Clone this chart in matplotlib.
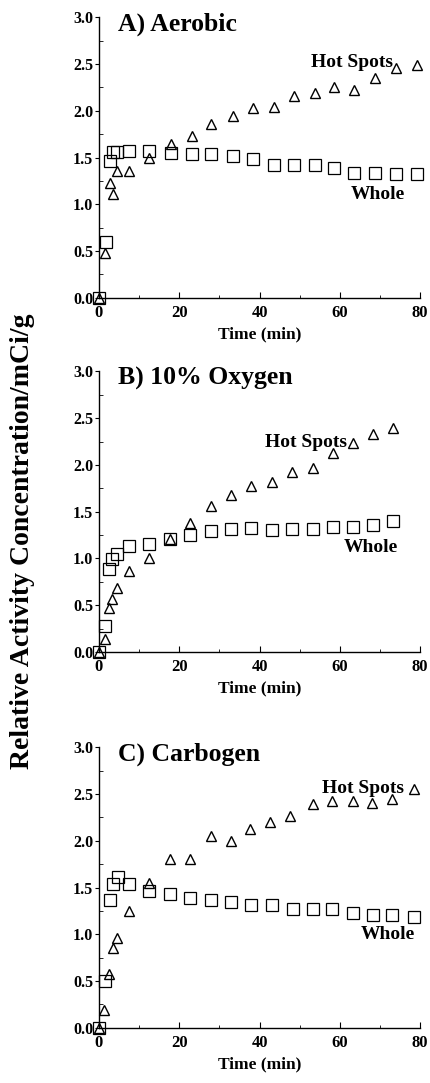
import matplotlib
matplotlib.use('Agg')
import matplotlib.pyplot as plt
from matplotlib.ticker import MultipleLocator

plt.rcParams.update({
    'font.family': ['Liberation Serif', 'DejaVu Serif'],
    'font.weight': 'bold',
    'axes.linewidth': 1.0,
})

# -- A) Aerobic --
a_hot_t = [0, 1.6, 2.7, 3.5, 4.6, 7.4, 12.6, 17.9, 23.2, 28.0, 33.3, 38.4, 43.6,
           48.5, 53.8, 58.6, 63.6, 68.7, 74.1, 79.3]
a_hot = [0, 0.48, 1.23, 1.11, 1.36, 1.36, 1.50, 1.64, 1.73, 1.86, 1.95, 2.03, 2.04,
         2.16, 2.19, 2.26, 2.22, 2.35, 2.46, 2.49]
a_whole_t = [0, 1.7, 2.8, 3.5, 4.6, 7.4, 12.6, 17.9, 23.2, 28.0, 33.3, 38.4, 43.6,
             48.5, 53.8, 58.6, 63.6, 68.7, 74.1, 79.3]
a_whole = [0, 0.60, 1.46, 1.56, 1.56, 1.57, 1.57, 1.55, 1.54, 1.54, 1.52, 1.48, 1.42,
           1.42, 1.42, 1.39, 1.34, 1.34, 1.32, 1.32]

# -- B) 10% Oxygen --
b_hot_t = [0, 1.4, 2.5, 3.3, 4.5, 7.5, 12.5, 17.8, 22.6, 27.8, 32.8, 37.8, 43.0,
           48.1, 53.2, 58.2, 63.2, 68.3, 73.3]
b_hot = [0, 0.14, 0.47, 0.57, 0.68, 0.87, 1.01, 1.21, 1.38, 1.56, 1.68, 1.78, 1.82,
         1.92, 1.97, 2.13, 2.23, 2.33, 2.40]
b_whole_t = [0, 1.6, 2.5, 3.3, 4.5, 7.5, 12.5, 17.8, 22.8, 27.8, 32.8, 37.8, 43.0,
             48.1, 53.2, 58.2, 63.2, 68.3, 73.3]
b_whole = [0, 0.28, 0.89, 0.99, 1.05, 1.13, 1.16, 1.21, 1.25, 1.29, 1.31, 1.33, 1.30,
           1.31, 1.31, 1.34, 1.34, 1.36, 1.40]

# -- C) Carbogen --
c_hot_t = [0, 1.2, 2.5, 3.5, 4.6, 7.5, 12.4, 17.7, 22.6, 27.9, 32.8, 37.7, 42.7,
           47.7, 53.2, 58.0, 63.2, 68.0, 73.0, 78.4]
c_hot = [0, 0.19, 0.58, 0.85, 0.96, 1.25, 1.55, 1.81, 1.81, 2.05, 2.00, 2.13, 2.20,
         2.26, 2.39, 2.42, 2.43, 2.40, 2.45, 2.55]
c_whole_t = [0, 1.4, 2.7, 3.5, 4.7, 7.6, 12.6, 17.8, 22.8, 27.8, 32.8, 37.9, 43.0,
             48.3, 53.2, 58.0, 63.2, 68.2, 73.0, 78.4]
c_whole = [0, 0.50, 1.37, 1.54, 1.61, 1.54, 1.46, 1.43, 1.39, 1.37, 1.35, 1.31, 1.31,
           1.27, 1.27, 1.27, 1.23, 1.21, 1.21, 1.19]

panels = [
    ('A) Aerobic', a_hot_t, a_hot, a_whole_t, a_whole, (73.3, 2.52), (76.2, 1.10), 0.725),
    ('B) 10% Oxygen', b_hot_t, b_hot, b_whole_t, b_whole, (61.8, 2.24), (74.6, 1.12), 0.398),
    ('C) Carbogen', c_hot_t, c_hot, c_whole_t, c_whole, (75.9, 2.56), (78.8, 1.00), 0.051),
]

fig = plt.figure(figsize=(4.30, 10.83), dpi=100)

for title, ht, hv, wt, wv, hot_xy, whole_xy, bottom in panels:
    ax = fig.add_axes([0.230, bottom, 0.747, 0.259])
    ax.plot(wt, wv, 's', ms=8.3, mfc='none', mec='black', mew=0.9, clip_on=False)
    ax.plot(ht, hv, '^', ms=6.5, mfc='none', mec='black', mew=1.0, clip_on=False)
    ax.set_xlim(0, 80)
    ax.set_ylim(0, 3.0)
    ax.spines['top'].set_visible(False)
    ax.spines['right'].set_visible(False)
    ax.xaxis.set_major_locator(MultipleLocator(20))
    ax.xaxis.set_minor_locator(MultipleLocator(10))
    ax.yaxis.set_major_locator(MultipleLocator(0.5))
    ax.yaxis.set_minor_locator(MultipleLocator(0.25))
    ax.yaxis.set_major_formatter(plt.FormatStrFormatter('%.1f'))
    ax.tick_params(axis='x', which='major', direction='in', length=4, labelsize=12, pad=5)
    ax.tick_params(axis='x', which='minor', direction='in', length=2.5)
    ax.tick_params(axis='y', which='major', direction='out', length=3, labelsize=11.5, pad=1)
    ax.tick_params(axis='y', which='minor', direction='in', length=3)
    ax.set_xlabel('Time (min)', fontsize=12.5, fontweight='bold', labelpad=4)
    ax.text(0.06, 0.975, title, transform=ax.transAxes, fontsize=18.5,
            fontweight='bold', va='center', ha='left')
    ax.text(hot_xy[0], hot_xy[1], 'Hot Spots', fontsize=14, fontweight='bold',
            ha='right', va='center')
    ax.text(whole_xy[0], whole_xy[1], 'Whole', fontsize=14, fontweight='bold',
            ha='right', va='center')

fig.text(0.052, 0.5, 'Relative Activity Concentration/mCi/g', rotation=90,
         fontsize=20, fontweight='bold', ha='center', va='center')

fig.savefig('out.png', dpi=100)
